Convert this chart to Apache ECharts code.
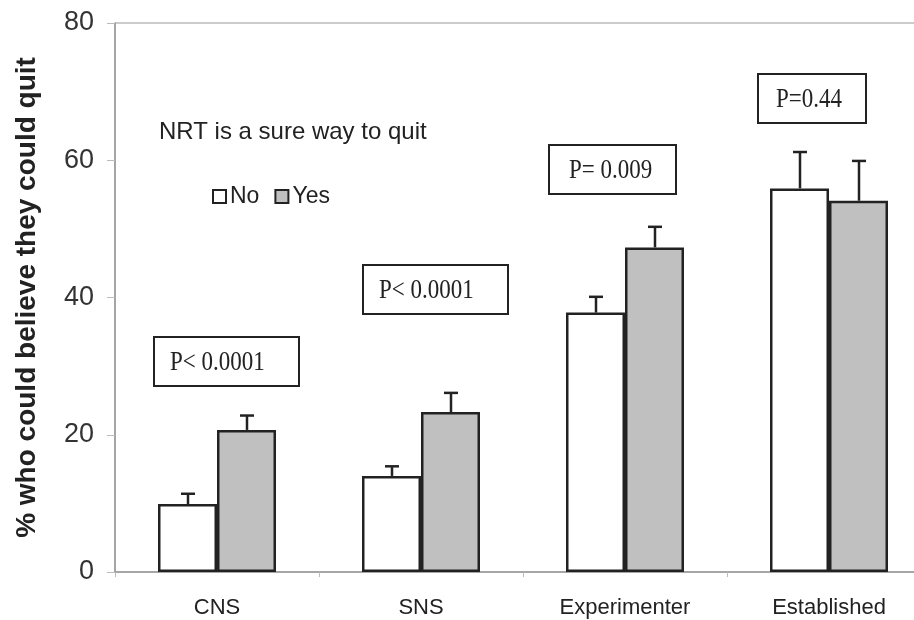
<!DOCTYPE html>
<html>
<head>
<meta charset="utf-8">
<script src="https://cdn.jsdelivr.net/npm/echarts@6/dist/echarts.min.js"></script>
<style>
html,body{margin:0;padding:0;background:#fff;overflow:hidden;}
/* the plot frame runs past the right edge of the page, so the canvas is wider than the view */
#chart{width:940px;height:620px;}
</style>
</head>
<body>
<div id="chart"></div>
<script>
// Groups of smokers
const categories = ['CNS', 'SNS', 'Experimenter', 'Established'];
// % who could believe they could quit, by answer to "NRT is a sure way to quit"
const noValues  = [9.9, 14.0, 37.8, 55.9];
const yesValues = [20.7, 23.3, 47.3, 54.1];
// Upper ends of the error bars
const noUpper  = [11.4, 15.4, 40.1, 61.2];
const yesUpper = [22.8, 26.1, 50.3, 59.9];
// Significance of the No/Yes difference in each group
const pLabels = ['P< 0.0001', 'P< 0.0001', 'P= 0.009', 'P=0.44'];
const yTicks = [0, 20, 40, 60, 80];

const BAR_W = 59;
const SANS = '"Liberation Sans", Arial, sans-serif';
const SERIF = '"Liberation Serif", "Times New Roman", serif';
const chart = echarts.init(document.getElementById('chart'));

function errorSeries(name, values, upper, side) {
  return {
    type: 'custom',
    name: name + ' error',
    silent: true,
    z: 5,
    data: values.map((v, i) => [i, v, upper[i]]),
    renderItem: function (params, api) {
      const i = api.value(0);
      const base = api.coord([i, api.value(1)]);
      const top = api.coord([i, api.value(2)]);
      const x = Math.round(base[0] + side * BAR_W / 2);
      const style = { stroke: '#222', lineWidth: 2.5 };
      return {
        type: 'group',
        children: [
          { type: 'line', shape: { x1: x, y1: base[1], x2: x, y2: top[1] }, style: style },
          { type: 'line', shape: { x1: x - 7, y1: top[1], x2: x + 7, y2: top[1] }, style: style }
        ]
      };
    }
  };
}

// Boxed p-value labels, placed above each group
const pBoxes = [
  { left: 153, top: 336, w: 145, h: 49, pad: 16 },
  { left: 362, top: 264, w: 145, h: 49, pad: 16 },
  { left: 548, top: 144, w: 127, h: 49, pad: 20 },
  { left: 757, top: 73,  w: 108, h: 49, pad: 18 }
];

const graphics = [
  {
    type: 'text', left: 159, top: 120,
    style: { text: 'NRT is a sure way to quit', font: '24px ' + SANS, fill: '#222' }
  }
];
pBoxes.forEach((b, i) => {
  graphics.push({
    type: 'group', left: b.left, top: b.top,
    children: [
      { type: 'rect', shape: { x: 0, y: 0, width: b.w, height: b.h }, style: { fill: '#fff', stroke: '#222', lineWidth: 2 } },
      { type: 'text', x: b.pad, y: b.h / 2 + 1, scaleY: 1.2,
        style: { text: pLabels[i], font: '23px ' + SERIF, fill: '#222', align: 'left', verticalAlign: 'middle' } }
    ]
  });
});

chart.setOption({
  animation: false,
  backgroundColor: '#fff',
  grid: { left: 115, top: 23, bottom: 48, width: 816, show: true, borderColor: '#999', borderWidth: 1 },
  legend: {
    left: 207, top: 180,
    icon: 'rect', itemWidth: 13, itemHeight: 13, itemGap: 15,
    textStyle: { fontSize: 23, fontFamily: SANS, color: '#222', padding: [0, 0, 0, -1] },
    data: ['No', 'Yes']
  },
  xAxis: {
    type: 'category',
    data: categories,
    axisLine: { lineStyle: { color: '#999', width: 1.5 } },
    axisTick: { show: true, alignWithLabel: false, length: 5, lineStyle: { color: '#bbb' } },
    axisLabel: { fontSize: 22, margin: 25, color: '#222', fontFamily: SANS }
  },
  yAxis: {
    type: 'value',
    min: yTicks[0], max: yTicks[yTicks.length - 1], interval: 20,
    name: '% who could believe they could quit',
    nameLocation: 'middle', nameGap: 74,
    nameTextStyle: { fontSize: 28, fontWeight: 'bold', color: '#222', fontFamily: SANS },
    axisLine: { show: true, lineStyle: { color: '#999', width: 1.5 } },
    axisTick: { show: true, length: 8, lineStyle: { color: '#bbb' } },
    axisLabel: { fontSize: 27, margin: 21, color: '#333', fontFamily: SANS },
    splitLine: { show: false }
  },
  graphic: graphics,
  series: [
    {
      name: 'No', type: 'bar', data: noValues, barWidth: BAR_W, barGap: '0%',
      itemStyle: { color: '#fff', borderColor: '#222', borderWidth: 2.5 }
    },
    {
      name: 'Yes', type: 'bar', data: yesValues, barWidth: BAR_W, barGap: '0%',
      itemStyle: { color: '#c0c0c0', borderColor: '#222', borderWidth: 2.5 }
    },
    errorSeries('No', noValues, noUpper, -1),
    errorSeries('Yes', yesValues, yesUpper, 1)
  ]
});
</script>
</body>
</html>
